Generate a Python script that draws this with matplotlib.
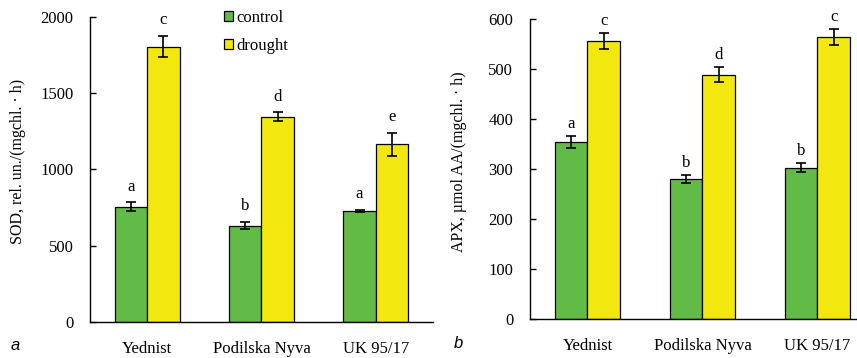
import matplotlib
matplotlib.use("Agg")
import matplotlib.pyplot as plt
from matplotlib.patches import Patch
import numpy as np

cultivars = ["Yednist", "Podilska Nyva", "UK 95/17"]
series_names = ["control", "drought"]

sod_control = [756, 631, 727]
sod_control_err = [28, 25, 8]
sod_drought = [1807, 1347, 1165]
sod_drought_err = [71, 28, 77]
sod_control_letters = ["a", "b", "a"]
sod_drought_letters = ["c", "d", "e"]

apx_control = [355, 280, 303]
apx_control_err = [12, 8, 9]
apx_drought = [557, 489, 565]
apx_drought_err = [16, 15, 16]
apx_control_letters = ["a", "b", "b"]
apx_drought_letters = ["c", "d", "c"]

GREEN = "#62BB47"
YELLOW = "#F2E70F"
SERIF = "Liberation Serif"

fig = plt.figure(figsize=(8.57, 3.58), dpi=100)
ax1 = fig.add_axes([0.1050, 0.1014, 0.4002, 0.8503])
ax2 = fig.add_axes([0.6184, 0.1089, 0.4026, 0.8372])

width = 0.284
x = np.arange(len(cultivars))


def draw_panel(ax, ctrl, ctrl_err, drt, drt_err, ctrl_lab, drt_lab, ymax, step,
               ylabel, letter_off):
    err_kw = dict(ecolor="black", elinewidth=1.2, capsize=3.3, capthick=1.2)
    ax.bar(x - width / 2, ctrl, width, yerr=ctrl_err, color=GREEN,
           edgecolor="black", linewidth=0.9, error_kw=err_kw, label=series_names[0],
           zorder=2)
    ax.bar(x + width / 2, drt, width, yerr=drt_err, color=YELLOW,
           edgecolor="black", linewidth=0.9, error_kw=err_kw, label=series_names[1],
           zorder=2)
    for xi, v, e, t in zip(x - width / 2, ctrl, ctrl_err, ctrl_lab):
        ax.annotate(t, (xi, v + e), xytext=(0, letter_off), textcoords="offset points",
                    ha="center", va="baseline", fontsize=12, family=SERIF)
    for xi, v, e, t in zip(x + width / 2, drt, drt_err, drt_lab):
        ax.annotate(t, (xi, v + e), xytext=(0, letter_off), textcoords="offset points",
                    ha="center", va="baseline", fontsize=12, family=SERIF)
    ax.set_xlim(-0.5, 2.5)
    ax.set_ylim(0, ymax)
    ax.set_yticks(np.arange(0, ymax + 1, step))
    ax.set_xticks(x)
    ax.set_xticklabels(cultivars)
    for s in ("top", "right"):
        ax.spines[s].set_visible(False)
    for s in ("left", "bottom"):
        ax.spines[s].set_linewidth(1.0)
    ax.tick_params(axis="y", direction="in", length=4, width=1.0, pad=12,
                   labelsize=12)
    ax.tick_params(axis="x", length=0, pad=14, labelsize=12)
    for lab in ax.get_xticklabels() + ax.get_yticklabels():
        lab.set_family(SERIF)
    ax.set_ylabel(ylabel, fontsize=11.5, family=SERIF)
    ax.yaxis.label.set_va("center")


draw_panel(ax1, sod_control, sod_control_err, sod_drought, sod_drought_err,
           sod_control_letters, sod_drought_letters, 2000, 500,
           "SOD, rel. un./(mgchl. · h)", 8.5)
ax1.yaxis.set_label_coords(-0.21, 0.525)

draw_panel(ax2, apx_control, apx_control_err, apx_drought, apx_drought_err,
           apx_control_letters, apx_drought_letters, 600, 100,
           "APX, µmol AA/(mgchl. · h)", 5.8)
ax2.yaxis.set_label_coords(-0.206, 0.524)

handles = [Patch(facecolor=GREEN, edgecolor="black", linewidth=0.9),
           Patch(facecolor=YELLOW, edgecolor="black", linewidth=0.9)]
fig.legend(handles, series_names, loc="upper left",
           bbox_to_anchor=(224 / 857, 1 - 10 / 358), frameon=False,
           prop={"family": SERIF, "size": 12}, handlelength=0.55,
           handleheight=0.55, handletextpad=0.2, labelspacing=0.7,
           borderpad=0, borderaxespad=0)

fig.text(15 / 857, 1 - 346 / 358, "a", fontsize=12, style="italic",
         family="Liberation Sans", ha="center", va="center")
fig.text(458 / 857, 1 - 343 / 358, "b", fontsize=12, style="italic",
         family="Liberation Sans", ha="center", va="center")

fig.savefig("out.png", dpi=100)
